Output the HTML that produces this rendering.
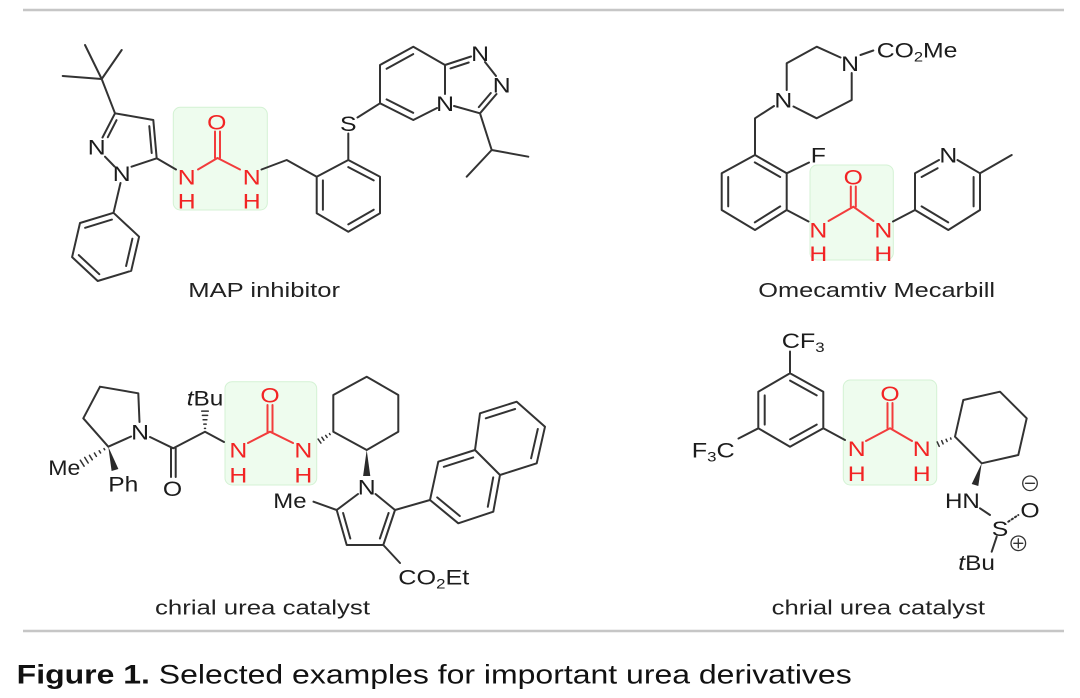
<!DOCTYPE html>
<html><head><meta charset="utf-8"><style>
html,body{margin:0;padding:0;background:#fff;}
svg{display:block;}
.t{font-family:"Liberation Sans",Arial,sans-serif;font-size:21px;fill:#1c1c1c;}
.r{fill:#f22424;}
.lbl{font-family:"Liberation Sans",Arial,sans-serif;font-size:20px;fill:#222;}
.cap{font-family:"Liberation Sans",Arial,sans-serif;font-size:27px;fill:#111;}
</style></head><body>
<svg width="1080" height="698" viewBox="0 0 1080 698" xmlns="http://www.w3.org/2000/svg">
<rect width="1080" height="698" fill="#fff"/>
<!-- rules -->
<line x1="23" y1="10" x2="1064" y2="10" stroke="#c6c6c6" stroke-width="2.6"/>
<line x1="23" y1="631" x2="1064" y2="631" stroke="#c6c6c6" stroke-width="2.6"/>

<!-- green boxes -->
<g fill="#eefcee" stroke="#d4f2d4" stroke-width="1">
<rect x="173.3" y="107.3" width="94" height="102.7" rx="7"/>
<rect x="810" y="165" width="83.3" height="95" rx="7"/>
<rect x="225" y="381.7" width="91.7" height="103.3" rx="7"/>
<rect x="843.3" y="380" width="93.4" height="105" rx="7"/>
</g>

<!-- black bonds -->
<g stroke="#333" stroke-width="2" fill="none" stroke-linecap="round" stroke-linejoin="round">
<!-- MAP inhibitor -->
<path d="M101.7 79L85 45 M101.7 79L121.7 50 M101.7 79L62.7 76 M101.7 79L115 113.3
M115 113.3L153.3 120L156.7 158.3L131.5 166.7
M115 113.3L102.5 137.5 M116.5 120.2L107.8 137.2
M149.3 126.1L151.7 153
M105 156.7L114.5 166.5
M120.5 183L113.5 212.8
M113.5 212.8L139.1 236.7L131.2 270.8L97.7 281L72.1 257.1L80 223Z
M132.4 238.7L126.1 266 M99.3 274.2L78.8 255.1 M85.1 227.8L111.9 219.6
M156.7 158.3L176 169.5
M261.5 169.5L286.7 160L316.7 176.7
M316.7 176.7L348.3 160L380 176.7L380 213.3L348.3 231.7L316.7 213.3Z
M348.3 167.1L373.7 180.4 M373.7 209.7L348.3 224.4 M322.9 209.7L322.9 180.4
M348.3 160L348.3 133.5 M357.5 117.5L380 103.3
M380 103.3L380 65L413.3 46.7L445 65L445 94 M437 108L413.3 120L380 103.3
M386.6 68.8L413.2 54.1 M386.6 99.4L413.2 112.8
M445 65L471 56.5 M450.5 68.4L468.7 62.5
M485 62L496 76 M496.5 94L480 113.3L454 106 M490.8 93L478.8 107.1
M480 113.3L491.7 150L466.7 176.7 M491.7 150L528.3 156.7"/>
<!-- Omecamtiv -->
<path d="M851.7 73L851.7 100L816.7 118.3L793.5 106.5 M786.7 90L786.7 63.3L816.7 46.7L840.5 57.5
M860.5 55L873.3 50.5
M774 106L755 118.3L755 155
M755 155L786.7 173.3L786.7 210L755 230L721.7 210L721.7 173.3Z
M754.8 162.4L780.2 177 M780.2 206.4L754.8 222.4 M728.2 206.4L728.2 177
M786.7 173.3L809 162.5
M786.7 210L808.5 221.5
M893 221.5L915 210L915 173.3L939 160 M957.5 160L980 173.3L980 210L948.3 230L915 210
M921.6 177L937.6 168.2 M973.6 177L973.6 206.4 M921.6 206.4L948.2 222.4
M980 173.3L1011.7 155"/>
<!-- left catalyst -->
<path d="M100 386.7L138.3 393.3L139.5 422 M131 436.5L108.3 446.7L83.3 418.3L100 386.7
M150 437L173.3 448.3L205 431.7L224 442
M171 448.3L171 477 M175.7 448.3L175.7 477
M333.3 431.7L333.3 395L366.7 376.7L398.3 395L398.3 431.7L366.7 450Z
M358 494L336.7 510L346.7 545L383.3 545L395 510L375.5 494
M343.1 513L350.3 538.5 M388.6 513L379.9 538.5
M336.7 510L313.5 501.7
M395 510L430 500
M430 500L438.3 461.7L475 450L500 475L493.3 511.7L458.3 523.3Z
M475 450L480 413.3L516.7 401.7L545 426.7L536.7 463.3L500 475
M443.8 466.8L473.2 457.4 M493.2 477.4L487.8 506.8 M459.8 516L437.2 497.4 M485.8 418.3L515.1 409 M537.8 429L531.1 458.3
M383.3 545L400 563"/>
<!-- right catalyst -->
<path d="M790 351.5L790 373.3
M790 373.3L823.3 391.7L823.3 428.3L790 446.7L758.3 428.3L758.3 391.7Z
M790.1 380.6L816.7 395.4 M816.7 424.6L790.1 439.4 M764.7 424.6L764.7 395.4
M758.3 428.3L738.5 438.5
M823.3 428.3L845 440
M955 436.7L963.3 400L1000 391.7L1026.7 418.3L1018.3 455L981.7 463.3Z
M980 508.3L990 515
M996.7 536.7L991.7 551.7"/>
<path d="M1008.3 521.7L1018.3 515" stroke-dasharray="1.5 2.5"/>
<!-- hashed wedges -->
<path stroke-width="1.5" d="M104 448.6L104.7 449.7 M99.2 450.8L100.6 453 M94.4 453L96.4 456.4 M89.5 455.3L92.3 459.8 M84.7 457.4L88.2 463 M80.3 460.2L84.1 466.2
M204.5 428.4L205.5 428.4 M203.8 424.1L206.2 424.1 M203.1 419.8L206.9 419.8 M202.4 415.4L207.6 415.4 M201.7 411.1L208.3 411.1
M329.5 433.6L330.1 434.6 M325.7 435.4L327.1 437.4 M321.9 437.3L323.9 440.3 M318.1 439.1L320.9 443.1
M950.6 438L951 439.2 M946.1 439.3L947.1 441.5 M941.7 440.7L943.1 443.9 M937.2 441.9L939.2 446.3"/>
<!-- charges -->
<circle cx="1030" cy="483.3" r="7.3" stroke-width="1.3"/>
<path stroke-width="1.3" d="M1025.5 483.3L1034.5 483.3"/>
<circle cx="1018.3" cy="543.3" r="7.3" stroke-width="1.3"/>
<path stroke-width="1.3" d="M1013.8 543.3L1022.8 543.3 M1018.3 538.8L1018.3 547.8"/>
</g>
<!-- bold wedges -->
<g fill="#2a2a2a">
<polygon points="108.3,446.7 118.4,469 111.6,471"/>
<polygon points="366.7,450 370.3,476 363.1,476"/>
<polygon points="981.7,463.3 978.3,486 971.7,484"/>
</g>

<!-- red urea bonds -->
<g stroke="#f23c3c" stroke-width="2" fill="none" stroke-linecap="round" stroke-linejoin="round">
<path d="M198 169.5L217.5 158L240 169.5 M215 131.5L215 158 M220 131.5L220 158"/>
<path d="M828.5 221L853.3 206.7L873.5 221 M850.8 186.5L850.8 206.7 M855.8 186.5L855.8 206.7"/>
<path d="M248 443L270 431.7L293 443 M267.5 405L267.5 431.7 M272.5 405L272.5 431.7"/>
<path d="M866 441L890 428.3L912 441 M887.5 403L887.5 428.3 M892.5 403L892.5 428.3"/>
</g>

<!-- atom labels -->
<g class="t" text-anchor="middle">
<!-- MAP -->
<text class="t" transform="translate(96.7,154.3) scale(1.18,1)">N</text>
<text class="t" transform="translate(121.7,180.9) scale(1.18,1)">N</text>
<text class="t r" transform="translate(186.7,184.3) scale(1.18,1)">N</text>
<text class="t r" transform="translate(186.7,208.4) scale(1.18,1)">H</text>
<text class="t r" transform="translate(216.7,129.3) scale(1.18,1)">O</text>
<text class="t r" transform="translate(251.7,184.3) scale(1.18,1)">N</text>
<text class="t r" transform="translate(251.7,208.4) scale(1.18,1)">H</text>
<text class="t" transform="translate(348.3,130.9) scale(1.18,1)">S</text>
<text class="t" transform="translate(480,60.9) scale(1.18,1)">N</text>
<text class="t" transform="translate(501.7,92.6) scale(1.18,1)">N</text>
<text class="t" transform="translate(445,110.9) scale(1.18,1)">N</text>
<!-- Omecamtiv -->
<text class="t" transform="translate(850,70.9) scale(1.18,1)">N</text>
<text class="t" transform="translate(783.3,107.6) scale(1.18,1)">N</text>
<text class="t" transform="translate(818.3,162.6) scale(1.18,1)">F</text>
<text class="t r" transform="translate(818.3,237.6) scale(1.18,1)">N</text>
<text class="t r" transform="translate(818.3,260.9) scale(1.18,1)">H</text>
<text class="t r" transform="translate(853.3,184.3) scale(1.18,1)">O</text>
<text class="t r" transform="translate(883.3,237.6) scale(1.18,1)">N</text>
<text class="t r" transform="translate(883.3,260.9) scale(1.18,1)">H</text>
<text class="t" transform="translate(948.3,162.6) scale(1.18,1)">N</text>
<!-- left catalyst -->
<text class="t" transform="translate(140,439.3) scale(1.18,1)">N</text>
<text class="t" transform="translate(172.5,495.9) scale(1.18,1)">O</text>
<text class="t r" transform="translate(238.3,457.6) scale(1.18,1)">N</text>
<text class="t r" transform="translate(238.3,482.6) scale(1.18,1)">H</text>
<text class="t r" transform="translate(270,402.6) scale(1.18,1)">O</text>
<text class="t r" transform="translate(303.3,457.6) scale(1.18,1)">N</text>
<text class="t r" transform="translate(303.3,482.6) scale(1.18,1)">H</text>
<text class="t" transform="translate(366.7,494.3) scale(1.18,1)">N</text>
<!-- right catalyst -->
<text class="t r" transform="translate(856.7,455.9) scale(1.18,1)">N</text>
<text class="t r" transform="translate(856.7,480.9) scale(1.18,1)">H</text>
<text class="t r" transform="translate(890,400.9) scale(1.18,1)">O</text>
<text class="t r" transform="translate(921.7,455.9) scale(1.18,1)">N</text>
<text class="t r" transform="translate(921.7,480.9) scale(1.18,1)">H</text>
<text class="t" transform="translate(1000,535.9) scale(1.18,1)">S</text>
<text class="t" transform="translate(1030,517.6) scale(1.18,1)">O</text>
</g>

<!-- multi-character group labels -->
<g>
<text class="t" transform="translate(876.7,57.5) scale(1.18,1)">CO<tspan font-size="14" dy="4">2</tspan><tspan dy="-4">Me</tspan></text>
<text class="t" transform="translate(48.3,475) scale(1.1,1)">Me</text>
<text class="t" transform="translate(108.3,491.5) scale(1.17,1)">Ph</text>
<text class="t" transform="translate(186.7,405.5) scale(1.16,1)"><tspan font-style="italic">t</tspan>Bu</text>
<text class="t" transform="translate(273.3,508) scale(1.14,1)">Me</text>
<text class="t" transform="translate(398.3,584.5) scale(1.2,1)">CO<tspan font-size="14" dy="4">2</tspan><tspan dy="-4">Et</tspan></text>
<text class="t" transform="translate(781.7,348) scale(1.2,1)">CF<tspan font-size="14" dy="4">3</tspan></text>
<text class="t" transform="translate(691.7,457.5) scale(1.2,1)">F<tspan font-size="14" dy="4">3</tspan><tspan dy="-4">C</tspan></text>
<text class="t" transform="translate(945,508) scale(1.15,1)">HN</text>
<text class="t" transform="translate(958.3,570) scale(1.16,1)"><tspan font-style="italic">t</tspan>Bu</text>
</g>

<!-- compound names -->
<text class="lbl" x="188.3" y="297" textLength="151.7" lengthAdjust="spacingAndGlyphs">MAP inhibitor</text>
<text class="lbl" x="758.3" y="297" textLength="236.7" lengthAdjust="spacingAndGlyphs">Omecamtiv Mecarbill</text>
<text class="lbl" x="155" y="614.5" textLength="215" lengthAdjust="spacingAndGlyphs">chrial urea catalyst</text>
<text class="lbl" x="771.7" y="614.5" textLength="213.3" lengthAdjust="spacingAndGlyphs">chrial urea catalyst</text>

<!-- caption -->
<text class="cap" x="16.7" y="683.3" textLength="835" lengthAdjust="spacingAndGlyphs"><tspan font-weight="bold">Figure 1.</tspan> Selected examples for important urea derivatives</text>
</svg>
</body></html>
